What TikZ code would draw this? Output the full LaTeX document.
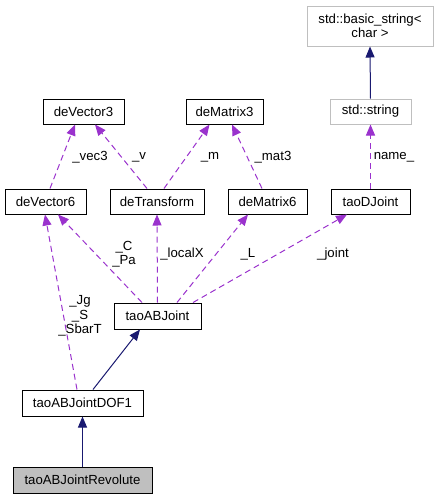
\documentclass[tikz,border=0pt]{standalone}
\usepackage{fontspec}
\setmainfont{Liberation Sans}
\usepackage{tikz}
\usetikzlibrary{arrows.meta}

\definecolor{edgeblue}{HTML}{191970}
\definecolor{edgepurple}{HTML}{9A32CD}
\definecolor{boxgray}{HTML}{BFBFBF}

\begin{document}
\begin{tikzpicture}[x=1pt,y=-1pt,
	font=\fontsize{13.2}{14.5}\selectfont,
	cls/.style={draw=black,fill=white,line width=1pt,inner sep=0pt,minimum height=25pt,align=center},
	ext/.style={cls,draw=boxgray},
	inherit/.style={draw=edgeblue,line width=1pt,-{Triangle[length=11pt,width=9pt]}},
	usage/.style={draw=edgepurple,line width=1pt,dash pattern=on 6pt off 4pt,-{Triangle[length=11pt,width=9pt,fill=edgepurple]}},
	lbl/.style={inner sep=0pt,align=center}]
	\useasboundingbox (0,0) rectangle (439,499);
	% classes
	\node[ext,minimum width=126pt,minimum height=40pt] (bstr) at (370,26) {std::basic\_string<\\char >};
	\node[ext,minimum width=81pt] (str) at (370.5,111.5) {std::string};
	\node[cls,minimum width=81pt] (vec3) at (83.5,111.5) {deVector3};
	\node[cls,minimum width=77pt] (mat3) at (224.5,111.5) {deMatrix3};
	\node[cls,minimum width=81pt] (vec6) at (45.5,201.5) {deVector6};
	\node[cls,minimum width=94pt] (trans) at (157,201.5) {deTransform};
	\node[cls,minimum width=79pt] (mat6) at (267.5,201.5) {deMatrix6};
	\node[cls,minimum width=79pt] (djoint) at (370.5,201.5) {taoDJoint};
	\node[cls,minimum width=87pt,minimum height=26pt] (abj) at (157.5,316) {taoABJoint};
	\node[cls,minimum width=121pt,minimum height=26pt] (dof1) at (82.5,403) {taoABJointDOF1};
	\node[cls,fill=boxgray,minimum width=139pt,minimum height=26pt] (rev) at (82.5,480) {taoABJointRevolute};
	% inheritance
	\draw[inherit] (str.north) -- (bstr.south);
	\draw[inherit] ([xshift=10.5pt]dof1.north) -- ([xshift=-17.5pt]abj.south);
	\draw[inherit] (rev.north) -- (dof1.south);
	% usage
	\draw[usage] (djoint.north) -- (str.south);
	\draw[usage] ([xshift=4.5pt]vec6.north) -- ([xshift=-8.5pt]vec3.south);
	\draw[usage] ([xshift=-10pt]trans.north) -- ([xshift=11.5pt]vec3.south);
	\draw[usage] ([xshift=7pt]trans.north) -- ([xshift=-15pt]mat3.south);
	\draw[usage] ([xshift=-5.5pt]mat6.north) -- ([xshift=7.5pt]mat3.south);
	\draw[usage] ([xshift=-15.5pt]abj.north) -- ([xshift=12.5pt]vec6.south);
	\draw[usage] (abj.north) -- (trans.south);
	\draw[usage] ([xshift=19.5pt]abj.north) -- ([xshift=-19.5pt]mat6.south);
	\draw[usage] ([xshift=35.5pt]abj.north) -- ([xshift=-23.5pt]djoint.south);
	\draw[usage] ([xshift=-5.5pt]dof1.north) -- ([xshift=-0.5pt]vec6.south);
	% labels
	\node[lbl] (lname) at (394,157) {name\_};
	\node[lbl] (lvec3) at (90,157) {\_vec3};
	\node[lbl] (lv) at (139,157) {\_v};
	\node[lbl] (lm) at (210,157) {\_m};
	\node[lbl] (lmat3) at (273,157) {\_mat3};
	\node[lbl] (lcpa) at (124,254) {\_C\\\_Pa};
	\node[lbl] (llocal) at (182,254) {\_localX};
	\node[lbl] (lL) at (248,254) {\_L};
	\node[lbl] (ljoint) at (333,254) {\_joint};
	\node[lbl] (ljg) at (80,316) {\_Jg\\\_S\\\_SbarT};
\end{tikzpicture}
\end{document}
